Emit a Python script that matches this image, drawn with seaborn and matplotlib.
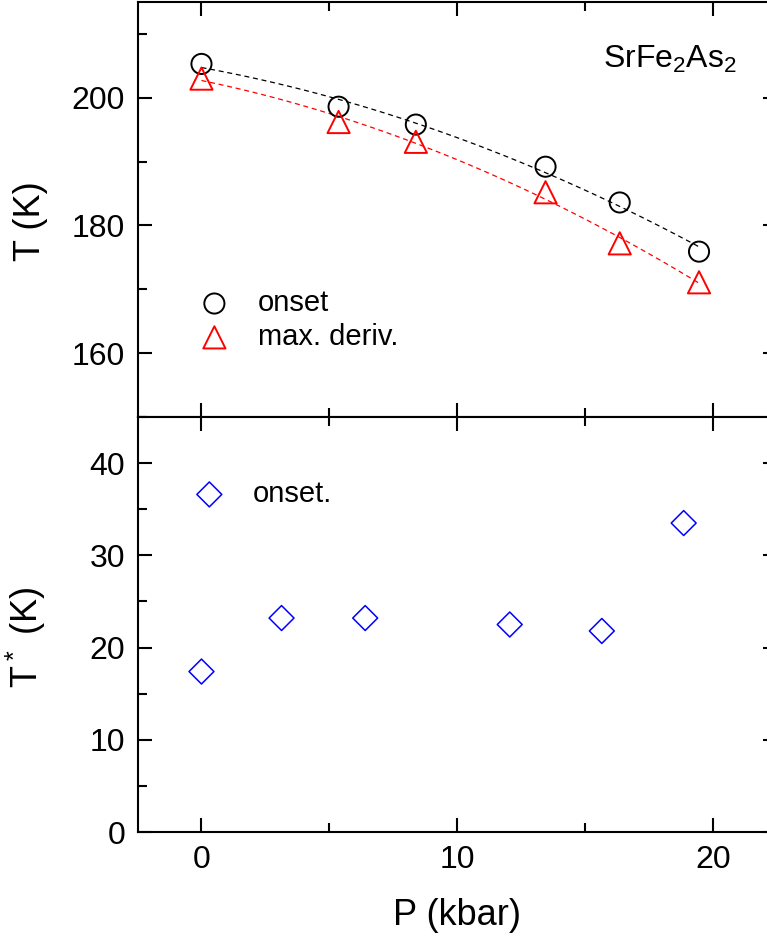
import matplotlib

matplotlib.use("Agg")

import matplotlib.pyplot as plt
import numpy as np
import pandas as pd
import seaborn as sns
from matplotlib.ticker import MultipleLocator

sns.set_theme(style="ticks")
plt.rcParams["font.family"] = ["Liberation Sans", "DejaVu Sans"]
plt.rcParams["mathtext.default"] = "regular"
for key in ("text.color", "axes.labelcolor", "xtick.color", "ytick.color",
            "axes.edgecolor"):
    plt.rcParams[key] = "black"

# ── data ─────────────────────────────────────────────────────────────────────
p_top = [0.0, 5.36, 8.38, 13.45, 16.35, 19.45]
t_onset = [205.3, 198.6, 195.8, 189.2, 183.6, 175.9]
t_maxderiv = [203.0, 196.2, 193.1, 185.2, 177.2, 171.1]

p_bottom = [0.0, 3.13, 6.4, 12.05, 15.65, 18.85]
tstar_onset = [17.4, 23.2, 23.2, 22.5, 21.8, 33.5]

top = pd.DataFrame({"P": p_top, "onset": t_onset, "maxd": t_maxderiv})
bottom = pd.DataFrame({"P": p_bottom, "tstar": tstar_onset})

# quadratic guides to the eye through each top series
p_fit = np.linspace(p_top[0], p_top[-1], 100)
fit = pd.DataFrame(
    {
        "P": p_fit,
        "onset": np.polyval(np.polyfit(p_top, t_onset, 2), p_fit),
        "maxd": np.polyval(np.polyfit(p_top, t_maxderiv, 2), p_fit),
    }
)

TICK_FS = 23
LEGEND_FS = 21
LABEL_FS = 26

fig = plt.figure(figsize=(7.67, 9.46), dpi=100)
ax_t = fig.add_axes([0.1793, 0.5592, 0.8338, 0.4387])
ax_b = fig.add_axes([0.1793, 0.1205, 0.8338, 0.4387])

# ── top panel ────────────────────────────────────────────────────────────────
sns.lineplot(fit, x="P", y="onset", color="black", lw=0.9, ax=ax_t, legend=False)
sns.lineplot(fit, x="P", y="maxd", color="red", lw=0.9, ax=ax_t, legend=False)
for line in ax_t.lines:
    line.set_dashes((4, 3))
sns.scatterplot(top, x="P", y="onset", marker="o", s=210, facecolor="none",
                edgecolor="black", linewidth=1.4, label="onset", ax=ax_t, zorder=3)
sns.scatterplot(top, x="P", y="maxd", marker="^", s=256, facecolor="none",
                edgecolor="red", linewidth=1.4, label="max. deriv.", ax=ax_t, zorder=3)

ax_t.set_xlim(-2.5, 22.5)
ax_t.set_ylim(150, 215)
ax_t.yaxis.set_major_locator(MultipleLocator(20))
ax_t.yaxis.set_minor_locator(MultipleLocator(10))
ax_t.set_ylabel("T (K)", fontsize=LABEL_FS)
ax_t.yaxis.set_label_coords(-0.14, 0.472)
ax_t.set_xlabel("")
ax_t.text(0.9375, 0.841, r"SrFe$_2$As$_2$", transform=ax_t.transAxes,
          ha="right", va="baseline", fontsize=23)
ax_t.legend(loc="upper left", bbox_to_anchor=(0.0837, 0.308), frameon=False,
            fontsize=LEGEND_FS, borderpad=0, borderaxespad=0, handlelength=1.6,
            handletextpad=0.7, labelspacing=0.2, scatterpoints=1)

# ── bottom panel ─────────────────────────────────────────────────────────────
sns.scatterplot(bottom, x="P", y="tstar", marker="D", s=161, facecolor="none",
                edgecolor="blue", linewidth=1.1, label="onset.", ax=ax_b, zorder=3)
ax_b.set_xlim(-2.5, 22.5)
ax_b.set_ylim(0, 45)
ax_b.yaxis.set_major_locator(MultipleLocator(10))
ax_b.yaxis.set_minor_locator(MultipleLocator(5))
ax_b.set_ylabel(r"T$^*$ (K)", fontsize=LABEL_FS)
ax_b.yaxis.set_label_coords(-0.14, 0.47)
ax_b.set_xlabel("P (kbar)", fontsize=LABEL_FS)
ax_b.xaxis.set_label_coords(0.5, -0.158)
ax_b.legend(loc="upper left", bbox_to_anchor=(0.0758, 0.848), frameon=False,
            fontsize=LEGEND_FS, borderpad=0, borderaxespad=0, handlelength=1.6,
            handletextpad=0.7, scatterpoints=1)

for ax in (ax_t, ax_b):
    ax.xaxis.set_major_locator(MultipleLocator(10))
    ax.xaxis.set_minor_locator(MultipleLocator(5))
    ax.tick_params(which="both", direction="in", top=True, right=True,
                   bottom=True, left=True, width=1.5, color="black",
                   labelsize=TICK_FS, pad=9)
    ax.tick_params(which="major", length=10)
    ax.tick_params(which="minor", length=6.5)
    for spine in ax.spines.values():
        spine.set_visible(True)
        spine.set_linewidth(1.5)
        spine.set_color("black")
    ax.set_facecolor("white")
ax_t.tick_params(axis="x", labelbottom=False)

fig.savefig("out.png", dpi=100, facecolor="white")
plt.close(fig)
